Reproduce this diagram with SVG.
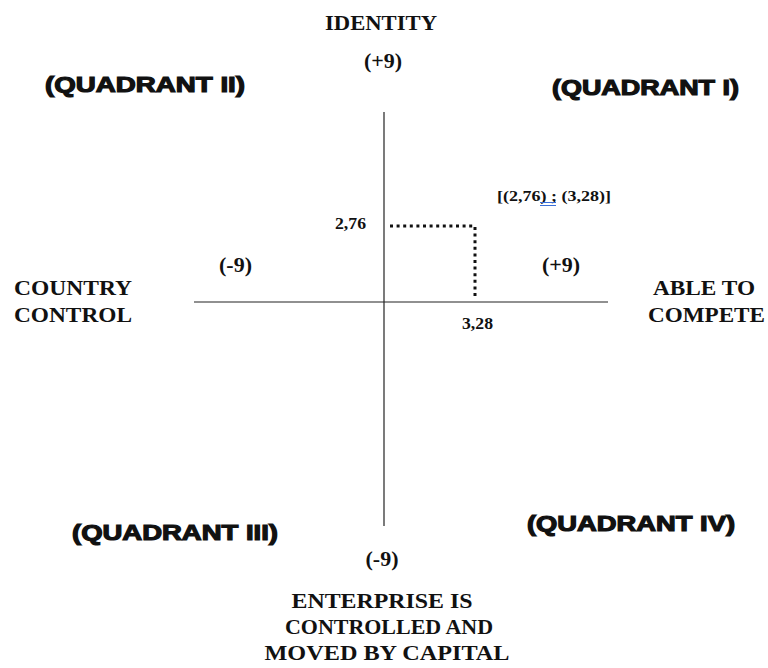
<svg xmlns="http://www.w3.org/2000/svg" width="768" height="668" viewBox="0 0 768 668">
<style>
.t{font-family:"Liberation Serif","Times New Roman",serif;font-weight:bold;fill:#111;}
.q{font-family:"Liberation Sans",Arial,sans-serif;font-weight:bold;fill:#111;stroke:#111;stroke-width:1.2;}
.ax{stroke:#222;stroke-width:1.2;fill:none;}
.dot{stroke:#111;stroke-width:3;stroke-dasharray:3 3.6;fill:none;}
</style>
<rect width="768" height="668" fill="#fff"/>
<g id="connectors">
<line class="ax" x1="384" y1="112" x2="384" y2="526"/>
<line class="ax" x1="194" y1="302" x2="608" y2="302"/>
<line class="dot" x1="390" y1="226" x2="474" y2="226"/>
<line class="dot" x1="475" y1="227" x2="475" y2="299"/>
</g>
<g id="identity"><text class="t" x="381" y="30" font-size="22" text-anchor="middle" textLength="112" lengthAdjust="spacingAndGlyphs">IDENTITY</text></g>
<g id="top-plus9"><text class="t" x="383" y="68" font-size="22" text-anchor="middle">(+9)</text></g>
<g id="quadrant-2"><text class="q" x="45" y="92" font-size="22" textLength="200" lengthAdjust="spacingAndGlyphs">(QUADRANT II)</text></g>
<g id="quadrant-1"><text class="q" x="552" y="95" font-size="22" textLength="187" lengthAdjust="spacingAndGlyphs">(QUADRANT I)</text></g>
<g id="point-label">
<text class="t" x="497" y="201" font-size="15" textLength="114" lengthAdjust="spacingAndGlyphs">[(2,76) ; (3,28)]</text>
<line x1="540" y1="202.5" x2="556" y2="202.5" stroke="#3a6fd8" stroke-width="1"/>
<line x1="540" y1="205.5" x2="556" y2="205.5" stroke="#3a6fd8" stroke-width="1"/>
</g>
<g id="y-value"><text class="t" x="335" y="229" font-size="16" textLength="31" lengthAdjust="spacingAndGlyphs">2,76</text></g>
<g id="x-value"><text class="t" x="462" y="329" font-size="16" textLength="31" lengthAdjust="spacingAndGlyphs">3,28</text></g>
<g id="left-minus9"><text class="t" x="219" y="272" font-size="22">(-9)</text></g>
<g id="right-plus9"><text class="t" x="542" y="272" font-size="22">(+9)</text></g>
<g id="country-control">
<text class="t" x="14" y="295" font-size="22" textLength="118" lengthAdjust="spacingAndGlyphs">COUNTRY</text>
<text class="t" x="14" y="322" font-size="22" textLength="118" lengthAdjust="spacingAndGlyphs">CONTROL</text>
</g>
<g id="able-to-compete">
<text class="t" x="653" y="295" font-size="22" textLength="102" lengthAdjust="spacingAndGlyphs">ABLE TO</text>
<text class="t" x="648" y="322" font-size="22" textLength="117" lengthAdjust="spacingAndGlyphs">COMPETE</text>
</g>
<g id="quadrant-3"><text class="q" x="72" y="540" font-size="22" textLength="206" lengthAdjust="spacingAndGlyphs">(QUADRANT III)</text></g>
<g id="quadrant-4"><text class="q" x="527" y="531" font-size="22" textLength="208" lengthAdjust="spacingAndGlyphs">(QUADRANT IV)</text></g>
<g id="bottom-minus9"><text class="t" x="382" y="566" font-size="22" text-anchor="middle">(-9)</text></g>
<g id="enterprise">
<text class="t" x="382" y="608" font-size="22" text-anchor="middle" textLength="181" lengthAdjust="spacingAndGlyphs">ENTERPRISE IS</text>
<text class="t" x="389" y="634" font-size="22" text-anchor="middle" textLength="208" lengthAdjust="spacingAndGlyphs">CONTROLLED AND</text>
<text class="t" x="387" y="660" font-size="22" text-anchor="middle" textLength="245" lengthAdjust="spacingAndGlyphs">MOVED BY CAPITAL</text>
</g>
</svg>
